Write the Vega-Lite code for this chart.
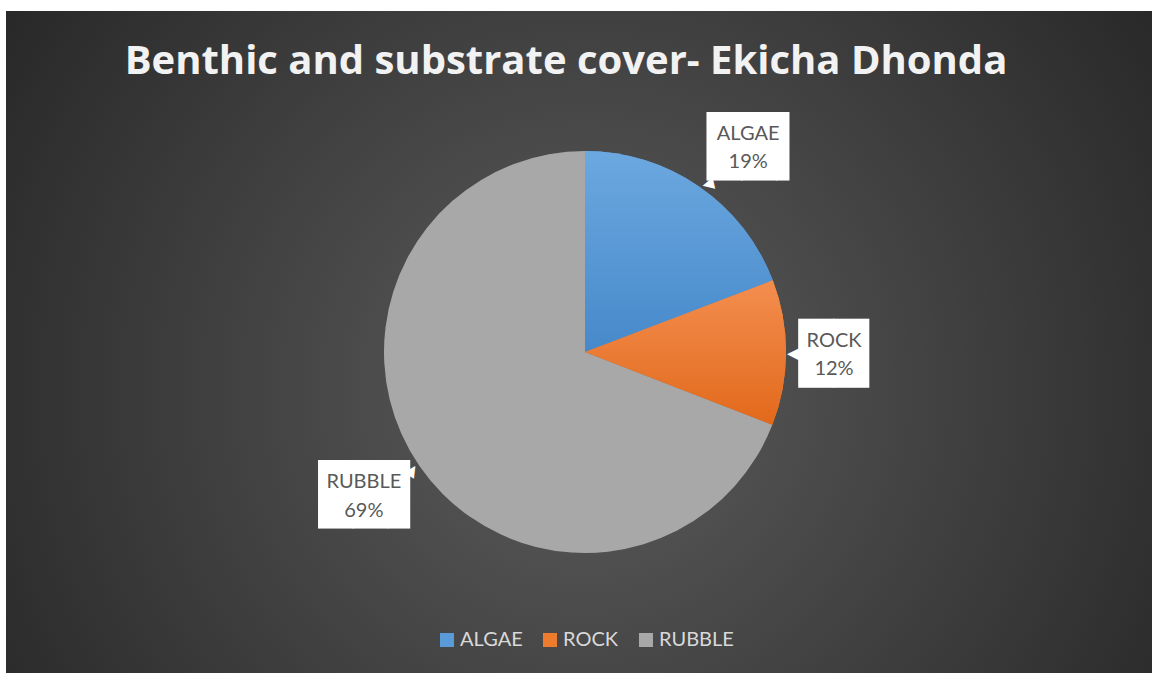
{
  "$schema": "https://vega.github.io/schema/vega-lite/v6.json",
  "width": 1158,
  "height": 682,
  "autosize": {"type": "none"},
  "padding": {"left": 6, "top": 11, "right": -12, "bottom": -20},
  "background": "#ffffff",
  "title": {
    "text": "Benthic and substrate cover- Ekicha Dhonda",
    "font": "Open Sans",
    "fontSize": 40,
    "fontWeight": "bold",
    "color": "#f2f2f2",
    "anchor": "middle",
    "frame": "group",
    "baseline": "alphabetic",
    "offset": -103,
    "dx": -19
  },
  "config": {"view": {"stroke": null}},
  "data": {
    "values": [
      {"category": "ALGAE", "value": 0.192},
      {"category": "ROCK", "value": 0.117},
      {"category": "RUBBLE", "value": 0.691}
    ]
  },
  "layer": [
    {
      "data": {"values": [{"bg": "background"}]},
      "mark": {
        "type": "arc",
        "outerRadius": 900,
        "clip": true,
        "fill": {
          "gradient": "radial",
          "x1": 0.5, "y1": 0.52, "r1": 0,
          "x2": 0.5, "y2": 0.52, "r2": 0.4,
          "stops": [
            {"offset": 0, "color": "#5c5c5c"},
            {"offset": 1, "color": "#262626"}
          ]
        }
      },
      "encoding": {}
    },
    {
      "encoding": {
        "theta": {"field": "value", "type": "quantitative", "stack": true},
        "order": {"field": "category", "type": "nominal", "sort": "ascending"}
      },
      "layer": [
        {
          "mark": {"type": "arc", "outerRadius": 201},
          "encoding": {
            "color": {
              "field": "category",
              "type": "nominal",
              "scale": {"domain": ["ALGAE", "ROCK", "RUBBLE"], "range": ["#5a9ad8", "#ef7b2e", "#a8a8a8"]},
              "legend": {
                "title": null,
                "orient": "none",
                "legendX": 431,
                "legendY": 619,
                "direction": "horizontal",
                "symbolType": "square",
                "symbolSize": 196,
                "symbolStrokeWidth": 0,
                "labelFont": "Lato",
                "labelFontSize": 20,
                "labelColor": "#d9d9d9",
                "columnPadding": 17,
                "labelOffset": 3,
                "padding": 0
              }
            }
          }
        },
        {
          "mark": {
            "type": "arc",
            "outerRadius": 201,
            "fill": {
              "gradient": "linear",
              "x1": 0, "y1": 0, "x2": 0, "y2": 1,
              "stops": [
                {"offset": 0, "color": "#6ca8e0"},
                {"offset": 1, "color": "#4689ca"}
              ]
            }
          },
          "encoding": {
            "detail": {"field": "category", "type": "nominal"},
            "opacity": {"condition": {"test": "datum.category === 'ALGAE'", "value": 1}, "value": 0}
          }
        },
        {
          "mark": {
            "type": "arc",
            "outerRadius": 201,
            "fill": {
              "gradient": "linear",
              "x1": 0, "y1": 0, "x2": 0, "y2": 1,
              "stops": [
                {"offset": 0, "color": "#f38e4f"},
                {"offset": 1, "color": "#e2691b"}
              ]
            }
          },
          "encoding": {
            "detail": {"field": "category", "type": "nominal"},
            "opacity": {"condition": {"test": "datum.category === 'ROCK'", "value": 1}, "value": 0}
          }
        },
        {
          "encoding": {
            "detail": {"field": "category", "type": "nominal"},
            "opacity": {"condition": {"test": "datum.category === 'ALGAE'", "value": 1}, "value": 0}
          },
          "layer": [
            {"mark": {"type": "text", "radius": 209, "thetaOffset": 0.025, "font": "DejaVu Sans", "fontSize": 15, "text": "◀", "fill": "#ffffff", "align": "center", "baseline": "alphabetic", "dy": 5.5, "angle": -13}},
            {"mark": {"type": "text", "radius": 263, "thetaOffset": 0.066, "font": "DejaVu Sans Mono", "fontSize": 57.6, "text": "██▍", "fill": "#ffffff", "align": "center", "baseline": "alphabetic", "dy": 20, "dx": 11}},
            {"mark": {"type": "text", "radius": 263, "thetaOffset": 0.066, "font": "Lato", "fontSize": 20, "fill": "#595959", "align": "center", "baseline": "alphabetic", "dy": -6}, "encoding": {"text": {"field": "category", "type": "nominal"}}},
            {"mark": {"type": "text", "radius": 263, "thetaOffset": 0.066, "font": "Lato", "fontSize": 20, "fill": "#595959", "align": "center", "baseline": "alphabetic", "dy": 22.5}, "encoding": {"text": {"field": "value", "type": "quantitative", "format": ".0%"}}}
          ]
        },
        {
          "encoding": {
            "detail": {"field": "category", "type": "nominal"},
            "opacity": {"condition": {"test": "datum.category === 'ROCK'", "value": 1}, "value": 0}
          },
          "layer": [
            {"mark": {"type": "text", "radius": 209, "thetaOffset": 0, "font": "DejaVu Sans", "fontSize": 18, "text": "◀", "fill": "#ffffff", "align": "center", "baseline": "alphabetic", "dy": 6.5}},
            {"mark": {"type": "text", "radius": 249, "thetaOffset": 0, "font": "DejaVu Sans Mono", "fontSize": 58, "text": "██", "fill": "#ffffff", "align": "center", "baseline": "alphabetic", "dy": 20, "dx": 0}},
            {"mark": {"type": "text", "radius": 249, "thetaOffset": 0, "font": "Lato", "fontSize": 20, "fill": "#595959", "align": "center", "baseline": "alphabetic", "dy": -6}, "encoding": {"text": {"field": "category", "type": "nominal"}}},
            {"mark": {"type": "text", "radius": 249, "thetaOffset": 0, "font": "Lato", "fontSize": 20, "fill": "#595959", "align": "center", "baseline": "alphabetic", "dy": 22.5}, "encoding": {"text": {"field": "value", "type": "quantitative", "format": ".0%"}}}
          ]
        },
        {
          "encoding": {
            "detail": {"field": "category", "type": "nominal"},
            "opacity": {"condition": {"test": "datum.category === 'RUBBLE'", "value": 1}, "value": 0}
          },
          "layer": [
            {"mark": {"type": "text", "radius": 209, "thetaOffset": -0.009, "font": "DejaVu Sans", "fontSize": 15, "text": "◀", "fill": "#ffffff", "align": "center", "baseline": "alphabetic", "dy": 5.5, "angle": 123}},
            {"mark": {"type": "text", "radius": 263, "thetaOffset": 0.028, "font": "DejaVu Sans Mono", "fontSize": 57.6, "text": "██▋", "fill": "#ffffff", "align": "center", "baseline": "alphabetic", "dy": 20, "dx": 7}},
            {"mark": {"type": "text", "radius": 263, "thetaOffset": 0.028, "font": "Lato", "fontSize": 20, "fill": "#595959", "align": "center", "baseline": "alphabetic", "dy": -6}, "encoding": {"text": {"field": "category", "type": "nominal"}}},
            {"mark": {"type": "text", "radius": 263, "thetaOffset": 0.028, "font": "Lato", "fontSize": 20, "fill": "#595959", "align": "center", "baseline": "alphabetic", "dy": 22.5}, "encoding": {"text": {"field": "value", "type": "quantitative", "format": ".0%"}}}
          ]
        }
      ]
    }
  ]
}
